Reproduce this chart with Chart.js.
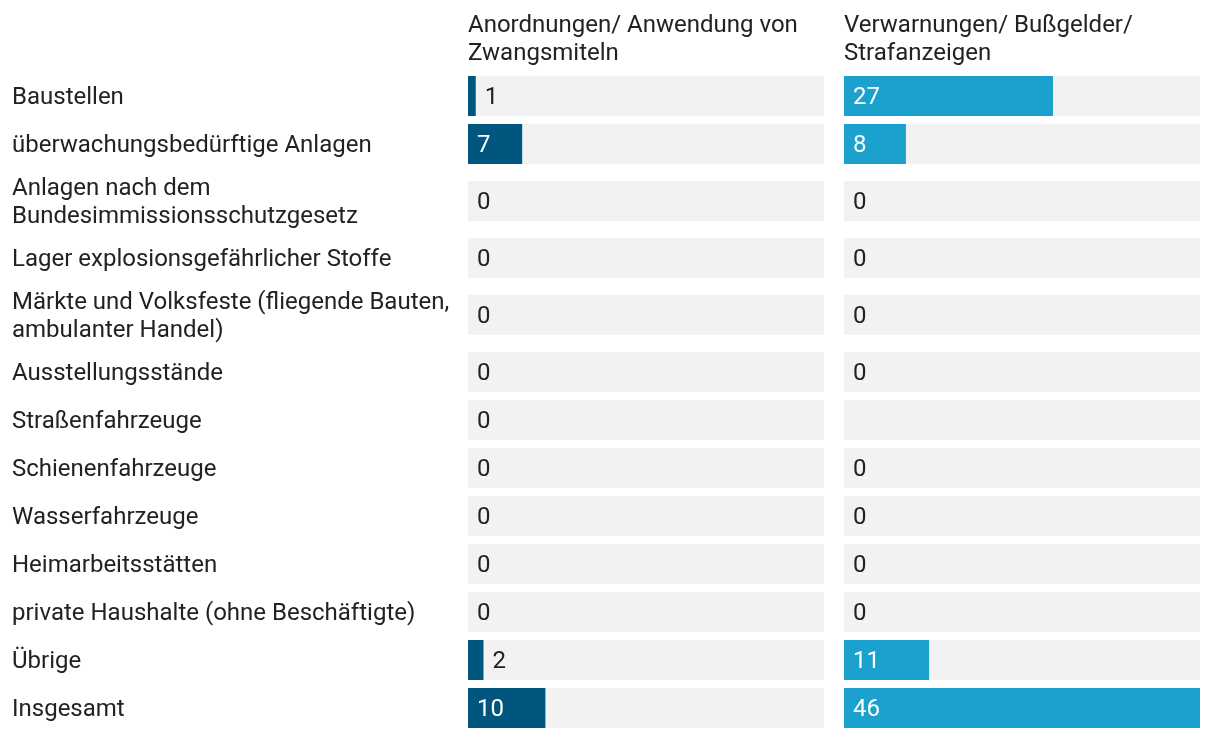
<!DOCTYPE html>
<html>
<head>
<meta charset="utf-8">
<script src="https://cdn.jsdelivr.net/npm/chart.js@4/dist/chart.umd.min.js"></script>
<style>
  body { margin: 0; background: #fff; }
  .wrap { position: absolute; top: 0; height: 738px; }
  #wrapA { left: 0; width: 824px; }
  #wrapB { left: 824px; width: 396px; }
</style>
</head>
<body>
<div class="wrap" id="wrapA"><canvas id="chartA"></canvas></div>
<div class="wrap" id="wrapB"><canvas id="chartB"></canvas></div>
<script>
const categories = [
    ['Baustellen'],
    ['überwachungsbedürftige Anlagen'],
    ['Anlagen nach dem', 'Bundesimmissionsschutzgesetz'],
    ['Lager explosionsgefährlicher Stoffe'],
    ['Märkte und Volksfeste (fliegende Bauten,', 'ambulanter Handel)'],
    ['Ausstellungsstände'],
    ['Straßenfahrzeuge'],
    ['Schienenfahrzeuge'],
    ['Wasserfahrzeuge'],
    ['Heimarbeitsstätten'],
    ['private Haushalte (ohne Beschäftigte)'],
    ['Übrige'],
    ['Insgesamt']
];
const anordnungen = [1, 7, 0, 0, 0, 0, 0, 0, 0, 0, 0, 2, 10];
const verwarnungen = [27, 8, 0, 0, 0, 0, null, 0, 0, 0, 0, 11, 46];
const headerA = ['Anordnungen/ Anwendung von', 'Zwangsmiteln'];
const headerB = ['Verwarnungen/ Bußgelder/', 'Strafanzeigen'];

const FONT = '24px Roboto';
const TEXT = '#222222';
const BAR = 40;
const LINE = 28;
const GAP = 8;

// row centres on a linear y scale, taller rows for two-line labels
const rowHeights = categories.map(l => Math.max(BAR, l.length * LINE + 2));
const centers = [];
let pos = 0;
rowHeights.forEach(h => {
    centers.push(pos + h / 2);
    pos += h + GAP;
});
const yMax = pos - GAP;
const xMax = Math.max(...anordnungen, ...verwarnungen.filter(v => v !== null));

const labelsPlugin = {
    id: 'labels',
    afterDatasetsDraw(chart, args, opts) {
        const c = chart.ctx;
        const area = chart.chartArea;
        c.save();
        c.font = FONT;
        c.textBaseline = 'alphabetic';
        c.textAlign = 'left';

        // header
        c.fillStyle = TEXT;
        opts.header.forEach((t, i) => c.fillText(t, area.left, 32 + i * LINE));

        // category labels (left column)
        if (opts.categories) {
            const yScale = chart.scales.y;
            categories.forEach((lines, i) => {
                const cy = yScale.getPixelForValue(centers[i]);
                const first = cy + 8 - (lines.length - 1) * LINE / 2;
                lines.forEach((t, j) => c.fillText(t, 12, first + j * LINE));
            });
        }

        // value labels
        const meta = chart.getDatasetMeta(0);
        meta.data.forEach((bar, i) => {
            const v = chart.data.datasets[0].data[i].x;
            if (v === null) return;
            const txt = String(v);
            const w = c.measureText(txt).width;
            const barW = bar.x - bar.base;
            if (barW >= w + 18) {
                c.fillStyle = '#ffffff';
                c.fillText(txt, bar.base + 9, bar.y + 8);
            } else {
                c.fillStyle = TEXT;
                c.fillText(txt, bar.x + 9, bar.y + 8);
            }
        });
        c.restore();
    }
};

function makeChart(id, values, color, header, withCats, padLeft, padRight) {
    new Chart(document.getElementById(id), {
        type: 'bar',
        data: {
            datasets: [{
                data: values.map((v, i) => ({ x: v, y: centers[i] })),
                backgroundColor: color,
                order: 0
            }, {
                data: centers.map(c => ({ x: xMax, y: c })),
                backgroundColor: '#f2f2f2',
                order: 1
            }]
        },
        options: {
            indexAxis: 'y',
            responsive: true,
            maintainAspectRatio: false,
            animation: false,
            grouped: false,
            barThickness: BAR,
            borderWidth: 0,
            inflateAmount: 0,
            layout: {
                padding: { left: padLeft, right: padRight, top: 76, bottom: 738 - 76 - yMax }
            },
            plugins: {
                legend: { display: false },
                tooltip: { enabled: false },
                labels: { header: header, categories: withCats }
            },
            scales: {
                x: { type: 'linear', min: 0, max: xMax, display: false },
                y: { type: 'linear', min: 0, max: yMax, reverse: true, offset: false, display: false }
            }
        },
        plugins: [labelsPlugin]
    });
}

makeChart('chartA', anordnungen, '#00567f', headerA, true, 468, 0);
makeChart('chartB', verwarnungen, '#1aa1cd', headerB, false, 20, 20);
</script>
</body>
</html>
